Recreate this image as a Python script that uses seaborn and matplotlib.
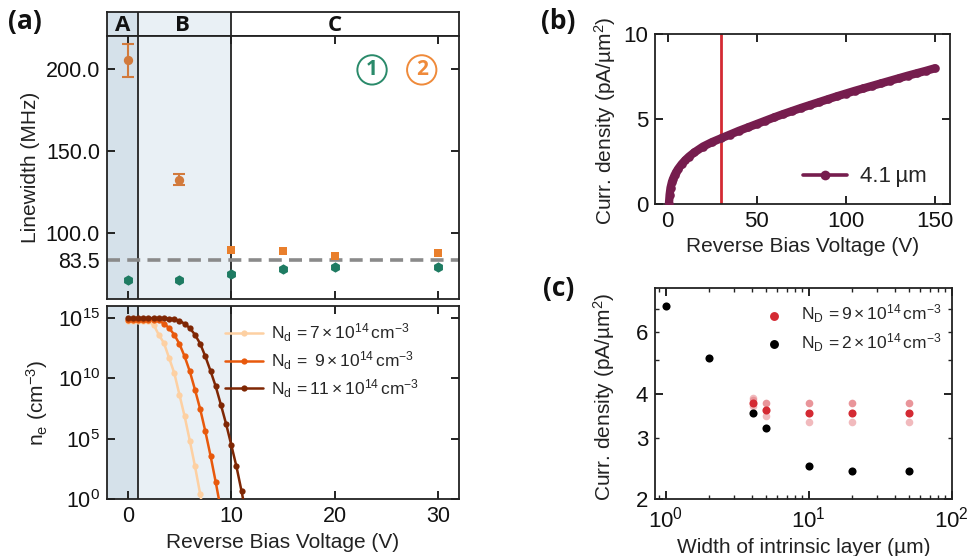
import numpy as np
import pandas as pd
import matplotlib
matplotlib.use("Agg")
import matplotlib.pyplot as plt
import seaborn as sns
from matplotlib.lines import Line2D
from matplotlib.ticker import FixedLocator, FixedFormatter, NullLocator, NullFormatter, LogLocator

# ---------------- data ----------------
# (a) top: linewidth vs reverse bias
V_green = [0, 5, 10, 15, 20, 30]
lw_green = [71.5, 71.5, 75.4, 78.4, 79.6, 79.2]
V_orange_circ = [0, 5]
lw_orange_circ = [205.3, 132.7]
err_orange_circ = [10.0, 3.5]
V_orange_sq = [10, 15, 20, 30]
lw_orange_sq = [89.8, 89.2, 86.4, 87.8]
err_orange_sq = [1.5, 1.5, 1.5, 1.5]
lw_ref = 83.5
lw_ticks = [83.5, 100, 150, 200]
lw_ticklabels = ["83.5", "100.0", "150.0", "200.0"]
regions = ["A", "B", "C"]

# (a) bottom: electron density (log10 of n_e in cm^-3)
V_n7 = [0, 0.5, 1, 1.5, 2, 2.5, 3, 3.5, 4, 4.5, 5, 5.5, 6, 6.5, 7, 7.5]
logn_n7 = [14.75, 14.75, 14.75, 14.75, 14.72, 14.45, 13.62, 12.93, 11.69, 10.44,
           8.64, 6.85, 4.83, 2.71, 0.42, -1.9]
V_n9 = [0, 0.5, 1, 1.5, 2, 2.5, 3, 3.5, 4, 4.5, 5, 5.5, 6, 6.5, 7, 7.5, 8, 8.5, 9]
logn_n9 = [14.85, 14.85, 14.85, 14.85, 14.85, 14.84, 14.8, 14.55, 14.17, 13.62,
           12.85, 11.82, 10.58, 9.06, 7.46, 5.61, 3.59, 1.41, -0.9]
V_n11 = [0, 0.5, 1, 1.5, 2, 2.5, 3, 3.5, 4, 4.5, 5, 5.5, 6, 6.5, 7, 7.5, 8, 8.5,
         9, 9.5, 10, 10.5, 11, 11.5]
logn_n11 = [15.0, 15.0, 15.0, 15.0, 15.0, 15.0, 15.0, 14.98, 14.96, 14.92, 14.78,
            14.53, 14.17, 13.62, 12.88, 11.82, 10.62, 9.34, 7.82, 6.24, 4.5, 2.71,
            0.64, -1.6]
labels_n = [r"N$_\mathrm{d}$$\,=7\times10^{14}\,$cm$^{-3}$",
            r"N$_\mathrm{d}$$\,=\ 9\times10^{14}\,$cm$^{-3}$",
            r"N$_\mathrm{d}$$\,=11\times10^{14}\,$cm$^{-3}$"]

# (b) current density vs reverse bias
V_b = [0.8, 1.2, 1.7, 2.5, 3, 4, 5, 6, 8, 10, 12, 15, 20, 25, 30, 35, 40, 45, 50,
       55, 60, 65, 70, 75, 80, 85, 90, 95, 100, 105, 110, 115, 120, 125, 130, 135,
       140, 145, 150]
J_b = [0.0, 0.55, 0.95, 1.3, 1.45, 1.7, 1.9, 2.07, 2.35, 2.58, 2.78, 3.03, 3.38,
       3.64, 3.86, 4.08, 4.3, 4.5, 4.7, 4.9, 5.1, 5.29, 5.47, 5.65, 5.82, 5.99,
       6.16, 6.33, 6.49, 6.65, 6.8, 6.95, 7.1, 7.25, 7.4, 7.55, 7.69, 7.83, 7.98]
V_mark = 30

# (c) current density vs intrinsic width
W_black = [1, 2, 4.1, 5, 10, 20, 50]
J_black = [7.1, 5.07, 3.52, 3.19, 2.49, 2.41, 2.41]
W_red = [4.1, 5, 10, 20, 50]
J_red = [3.76, 3.60, 3.52, 3.52, 3.52]
J_red_hi = [3.89, 3.76, 3.76, 3.76, 3.76]
J_red_mid = [3.84, 3.76, 3.76, 3.76, 3.76]
J_red_lo = [3.68, 3.46, 3.32, 3.32, 3.32]

# ---------------- style ----------------
sns.set_theme(style="ticks")
plt.rcParams["font.family"] = ["Liberation Sans", "DejaVu Sans"]
plt.rcParams["mathtext.fontset"] = "custom"
plt.rcParams["mathtext.rm"] = "Liberation Sans"
plt.rcParams["mathtext.it"] = "Liberation Sans:italic"
plt.rcParams["mathtext.bf"] = "Liberation Sans:bold"
plt.rcParams["axes.unicode_minus"] = True

SPINE = "#222222"
COL_A = "#d5e1ea"
COL_B = "#e9f0f5"
GREEN = "#1e7b62"
ORANGE_C = "#d27a3c"
ORANGE_S = "#e97f2c"
OR_CMAP = ["#fdd0a2", "#e8590c", "#7f2704"]
PURPLE = "#761d4e"
RED = "#d42a33"
TICK_FS = 15.5
LAB_FS = 15


def style_ax(ax, fs=TICK_FS):
    for s in ax.spines.values():
        s.set_color(SPINE)
        s.set_linewidth(1.3)
        s.set_visible(True)
    ax.tick_params(which="major", direction="in", length=6, width=1.4,
                   top=True, right=True, labelsize=fs, colors=SPINE,
                   labelcolor="#111111", pad=5)
    ax.tick_params(which="minor", direction="in", length=3, width=1.0,
                   top=True, right=True, colors=SPINE)


fig = plt.figure(figsize=(9.7, 5.56), dpi=100)

axh = fig.add_axes([0.1103, 0.9353, 0.3629, 0.0432])
ax1 = fig.add_axes([0.1103, 0.4622, 0.3629, 0.4730])
ax2 = fig.add_axes([0.1103, 0.1025, 0.3629, 0.3471])
axb = fig.add_axes([0.6753, 0.6331, 0.3041, 0.3058])
axc = fig.add_axes([0.6753, 0.1020, 0.3059, 0.3795])

# ---------------- header ----------------
for ax in (axh, ax1, ax2):
    ax.set_xlim(-2, 32)
    ax.axvspan(-2, 1, color=COL_A, lw=0, zorder=0)
    ax.axvspan(1, 10, color=COL_B, lw=0, zorder=0)
    ax.axvline(1, color=SPINE, lw=1.3, zorder=1)
    ax.axvline(10, color=SPINE, lw=1.3, zorder=1)
axh.set_ylim(0, 1)
axh.set_xticks([])
axh.set_yticks([])
for s in axh.spines.values():
    s.set_color(SPINE)
    s.set_linewidth(1.3)
for lab, xc in zip(regions, [-0.5, 5.3, 20]):
    axh.text(xc, 0.42, lab, ha="center", va="center", fontsize=16,
             fontweight="bold", family=["Open Sans", "DejaVu Sans"], color="#111111")

# ---------------- (a) top ----------------
style_ax(ax1)
ax1.axhline(lw_ref, color="#8a8a8a", lw=2.6, ls=(0, (3.6, 2.0)), zorder=2)
ax1.errorbar(V_orange_circ, lw_orange_circ, yerr=err_orange_circ, fmt="none",
             ecolor=ORANGE_C, elinewidth=1.5, capsize=4, capthick=1.5, zorder=3)
ax1.errorbar(V_orange_sq, lw_orange_sq, yerr=err_orange_sq, fmt="none",
             ecolor=ORANGE_S, elinewidth=1.2, capsize=3, capthick=1.2, zorder=3)
sns.scatterplot(x=V_orange_circ, y=lw_orange_circ, ax=ax1, color=ORANGE_C,
                marker="o", s=45, linewidth=0, zorder=4)
sns.scatterplot(x=V_orange_sq, y=lw_orange_sq, ax=ax1, color=ORANGE_S,
                marker="s", s=40, linewidth=0, zorder=4)
sns.scatterplot(x=V_green, y=lw_green, ax=ax1, color=GREEN,
                marker="h", s=55, linewidth=0, zorder=4)
ax1.set_ylim(60, 220)
ax1.set_yticks(lw_ticks)
ax1.set_yticklabels(lw_ticklabels)
ax1.set_xticks([0, 10, 20, 30])
ax1.tick_params(labelbottom=False)
ax1.set_ylabel("Linewidth (MHz)", fontsize=LAB_FS, color="#222222")
ax1.yaxis.set_label_coords(-0.19, 0.5)
ax1.set_xlabel("")
ax1.text(23.6, 199.4, "1", color="#2a8a6a", fontsize=15, fontweight="bold",
         ha="center", va="center", family=["Open Sans", "DejaVu Sans"],
         bbox=dict(boxstyle="circle,pad=0.2", fc="none", ec="#2a8a6a", lw=1.4))
ax1.text(28.4, 199.4, "2", color="#ef8a3a", fontsize=15, fontweight="bold",
         ha="center", va="center", family=["Open Sans", "DejaVu Sans"],
         bbox=dict(boxstyle="circle,pad=0.2", fc="none", ec="#ef8a3a", lw=1.4))

# ---------------- (a) bottom ----------------
style_ax(ax2)
for V, lg, col, lab in zip([V_n7, V_n9, V_n11], [logn_n7, logn_n9, logn_n11],
                           OR_CMAP, labels_n):
    sns.lineplot(x=V, y=10 ** np.array(lg, dtype=float), ax=ax2, color=col,
                 marker="o", markersize=4.5, markeredgewidth=0, lw=1.8,
                 label=lab, zorder=3, estimator=None)
ax2.set_yscale("log")
ax2.set_ylim(1, 1e16)
ax2.set_yticks([1, 1e5, 1e10, 1e15])
ax2.yaxis.set_minor_locator(NullLocator())
ax2.set_xticks([0, 10, 20, 30])
ax2.set_xlim(-2, 32)
ax2.set_xlabel("Reverse Bias Voltage (V)", fontsize=LAB_FS, color="#222222", labelpad=4)
ax2.set_ylabel(r"n$_\mathrm{e}$ (cm$^{-3}$)", fontsize=LAB_FS, color="#222222")
ax2.yaxis.set_label_coords(-0.162, 0.5)
leg = ax2.legend(loc="upper left", bbox_to_anchor=(0.29, 1.0), frameon=False,
                 fontsize=12.5, handlelength=2.2, handletextpad=0.45, labelspacing=0.3)

# ---------------- (b) ----------------
style_ax(axb, fs=16)
axb.axvline(V_mark, color=RED, lw=2.0, zorder=2)
sns.lineplot(x=V_b, y=J_b, ax=axb, color=PURPLE, lw=6.0, marker="o",
             markersize=6.2, markeredgewidth=0, zorder=3, estimator=None)
axb.set_xlim(-7, 158.6)
axb.set_ylim(0, 10)
axb.set_xticks([0, 50, 100, 150])
axb.set_yticks([0, 5, 10])
axb.set_xlabel("Reverse Bias Voltage (V)", fontsize=LAB_FS, color="#222222", labelpad=4)
axb.set_ylabel(r"Curr. density (pA/µm$^2$)", fontsize=LAB_FS, color="#222222")
axb.yaxis.set_label_coords(-0.125, 0.49)
hb = Line2D([], [], color=PURPLE, lw=2.6, marker="o", markersize=7, markeredgewidth=0)
axb.legend([hb], ["4.1\u2009µm"], loc="lower right", bbox_to_anchor=(0.99, -0.02),
           frameon=False, fontsize=16, handlelength=2.0, handletextpad=0.6)

# ---------------- (c) ----------------
style_ax(axc, fs=16)
sns.scatterplot(x=W_red, y=J_red_hi, ax=axc, color=RED, alpha=0.32, s=30, linewidth=0, zorder=2)
sns.scatterplot(x=W_red, y=J_red_mid, ax=axc, color=RED, alpha=0.25, s=30, linewidth=0, zorder=2)
sns.scatterplot(x=W_red, y=J_red_lo, ax=axc, color=RED, alpha=0.32, s=30, linewidth=0, zorder=2)
sns.scatterplot(x=W_red, y=J_red, ax=axc, color=RED, s=34, linewidth=0, zorder=3,
                label=r"N$_\mathrm{D}$$\,=9\times10^{14}\,$cm$^{-3}$")
sns.scatterplot(x=W_black, y=J_black, ax=axc, color="black", s=34, linewidth=0, zorder=4,
                label=r"N$_\mathrm{D}$$\,=2\times10^{14}\,$cm$^{-3}$")
axc.set_xscale("log")
axc.set_yscale("log")
axc.set_xlim(0.84, 100)
axc.set_ylim(2, 8)
axc.xaxis.set_major_locator(FixedLocator([1, 10, 100]))
axc.xaxis.set_minor_locator(LogLocator(base=10, subs=np.arange(2, 10)))
axc.xaxis.set_minor_formatter(NullFormatter())
axc.set_xticklabels([r"$10^0$", r"$10^1$", r"$10^2$"])
axc.yaxis.set_major_locator(FixedLocator([2, 4]))
axc.yaxis.set_major_formatter(FixedFormatter(["2", "4"]))
axc.yaxis.set_minor_locator(FixedLocator([3, 5, 6, 7]))
axc.yaxis.set_minor_formatter(FixedFormatter(["3", "", "6", ""]))
axc.tick_params(axis="y", which="minor", labelsize=16, labelcolor="#111111", pad=5)
axc.set_xlabel("Width of intrinsic layer (µm)", fontsize=LAB_FS, color="#222222", labelpad=4)
axc.set_ylabel(r"Curr. density (pA/µm$^2$)", fontsize=LAB_FS, color="#222222")
axc.yaxis.set_label_coords(-0.128, 0.486)
axc.legend(loc="upper left", bbox_to_anchor=(0.29, 1.005), frameon=False, fontsize=12.5,
           handletextpad=0.55, labelspacing=0.35, markerscale=1.1)

# ---------------- panel labels ----------------
for txt, x, y in [("(a)", 0.008, 0.962), ("(b)", 0.558, 0.962), ("(c)", 0.560, 0.482)]:
    fig.text(x, y, txt, fontsize=19, fontweight="bold", ha="left", va="center",
             family=["Open Sans", "DejaVu Sans"], color="#111111")

fig.savefig("out.png", dpi=100)
